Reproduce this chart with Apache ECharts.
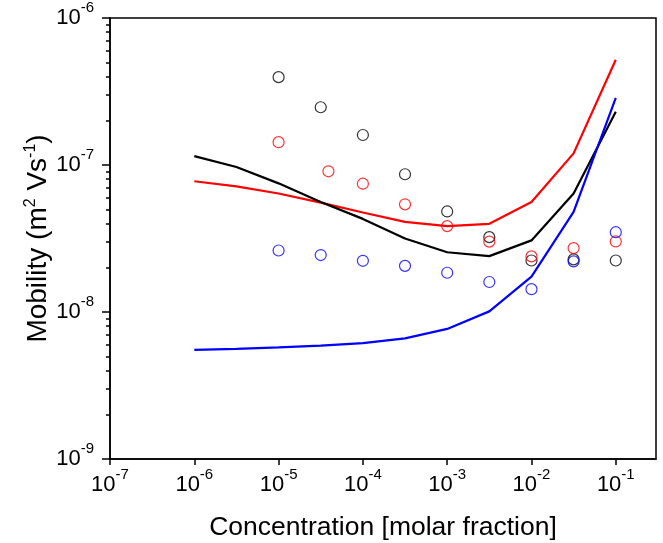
<!DOCTYPE html>
<html><head><meta charset="utf-8">
<script src="https://cdn.jsdelivr.net/npm/echarts@6/dist/echarts.min.js"></script>
<style>html,body{margin:0;padding:0;background:#fff}#c{width:663px;height:543px}</style>
</head><body><div id="c"></div>
<script>
// ---- data ----
const lineConc  = [1e-6, 3.16e-6, 1e-5, 3.16e-5, 1e-4, 3.16e-4, 1e-3, 3.16e-3, 1e-2, 3.16e-2, 1e-1];
const blackLine = [1.15e-7, 9.7e-8, 7.5e-8, 5.6e-8, 4.3e-8, 3.16e-8, 2.55e-8, 2.4e-8, 3.07e-8, 6.4e-8, 2.3e-7];
const redLine   = [7.75e-8, 7.15e-8, 6.4e-8, 5.55e-8, 4.75e-8, 4.1e-8, 3.84e-8, 3.98e-8, 5.6e-8, 1.2e-7, 5.2e-7];
const blueLine  = [5.52e-9, 5.62e-9, 5.74e-9, 5.9e-9, 6.15e-9, 6.62e-9, 7.67e-9, 1.01e-8, 1.74e-8, 4.8e-8, 2.86e-7];

const pointConc    = [1e-5, 3.16e-5, 1e-4, 3.16e-4, 1e-3, 3.16e-3, 1e-2, 3.16e-2, 1e-1];
const redPointConc = [1e-5, 3.9e-5, 1e-4, 3.16e-4, 1e-3, 3.16e-3, 1e-2, 3.16e-2, 1e-1];
const blackPts = [3.96e-7, 2.47e-7, 1.6e-7, 8.65e-8, 4.83e-8, 3.23e-8, 2.24e-8, 2.28e-8, 2.24e-8];
const redPts   = [1.43e-7, 9.06e-8, 7.46e-8, 5.4e-8, 3.84e-8, 3.01e-8, 2.39e-8, 2.72e-8, 3.02e-8];
const bluePts  = [2.62e-8, 2.44e-8, 2.23e-8, 2.06e-8, 1.85e-8, 1.6e-8, 1.43e-8, 2.21e-8, 3.49e-8];

const xTickValues = [1e-7, 1e-6, 1e-5, 1e-4, 1e-3, 1e-2, 1e-1];
const yTickValues = [1e-9, 1e-8, 1e-7, 1e-6];
const yMinorValues = [2e-9,3e-9,4e-9,5e-9,6e-9,7e-9,8e-9,9e-9,
                      2e-8,3e-8,4e-8,5e-8,6e-8,7e-8,8e-8,9e-8,
                      2e-7,3e-7,4e-7,5e-7,6e-7,7e-7,8e-7,9e-7];
const xTitle = 'Concentration [molar fraction]';

// ---- build ----
function pairs(xs, ys){ return xs.map((x,i)=>[x, ys[i]]); }
function powLabel(v){ const e = Math.round(Math.log10(v)); return '{b|10}{s|' + e + '}'; }
const FONT = '"Liberation Sans", Arial, sans-serif';
const labelRich = {
  b: {fontSize: 22, fontFamily: FONT, color: '#000', verticalAlign: 'bottom'},
  s: {fontSize: 15, fontFamily: FONT, color: '#000', verticalAlign: 'bottom', padding: [0,0,14,0]}
};

const chart = echarts.init(document.getElementById('c'), null, {renderer: 'canvas'});
chart.setOption({
  animation: false,
  backgroundColor: '#fff',
  grid: {left: 110, right: 7, top: 18, bottom: 84, show: true, borderColor: '#000', borderWidth: 1.5,
         containLabel: false, outerBoundsMode: 'none'},
  xAxis: [{
    type: 'log', min: 1e-7, max: 0.3,
    name: xTitle, nameLocation: 'middle', nameGap: 55, nameMoveOverlap: false,
    nameTextStyle: {fontSize: 26.5, fontFamily: FONT, color: '#000'},
    axisLine: {show: true, lineStyle: {color: '#000', width: 1.5}},
    axisTick: {show: true, inside: false, length: 6, lineStyle: {color: '#000', width: 1.5}, customValues: xTickValues},
    axisLabel: {show: true, margin: 8, formatter: powLabel, rich: labelRich, customValues: xTickValues},
    splitLine: {show: false}, minorTick: {show: false}
  }],
  yAxis: [{
    type: 'log', min: 1e-9, max: 1e-6,
    name: '{t|Mobility (m}{s|2}{t| Vs}{s|-1}{t|)}', nameLocation: 'middle', nameGap: 58, nameRotate: 90,
    nameMoveOverlap: false,
    nameTextStyle: {rich: {
      t: {fontSize: 28, fontFamily: FONT, color: '#000', verticalAlign: 'bottom'},
      s: {fontSize: 16, fontFamily: FONT, color: '#000', verticalAlign: 'bottom', padding: [0,0,13,0]}
    }},
    axisLine: {show: true, lineStyle: {color: '#000', width: 1.5}},
    axisTick: {show: true, inside: false, length: 8, lineStyle: {color: '#000', width: 1.5}, customValues: yTickValues},
    axisLabel: {show: true, margin: 16, formatter: powLabel, rich: labelRich, customValues: yTickValues, padding: [0,0,7,0]},
    splitLine: {show: false}, minorTick: {show: false}
  }, {
    type: 'log', min: 1e-9, max: 1e-6, position: 'left',
    axisLine: {show: false},
    axisTick: {show: true, inside: false, length: 4, lineStyle: {color: '#000', width: 1.5}, customValues: yMinorValues},
    axisLabel: {show: false},
    splitLine: {show: false}
  }],
  series: [
    {type: 'line', data: pairs(lineConc, redLine), showSymbol: false, symbol: 'none', lineStyle: {color: '#ff0000', width: 2.2}, z: 2},
    {type: 'line', data: pairs(lineConc, blackLine), showSymbol: false, symbol: 'none', lineStyle: {color: '#000000', width: 2.2}, z: 2},
    {type: 'line', data: pairs(lineConc, blueLine), showSymbol: false, symbol: 'none', lineStyle: {color: '#0000ff', width: 2.2}, z: 2},
    {type: 'scatter', data: pairs(pointConc, blackPts), symbol: 'circle', symbolSize: 11,
     itemStyle: {color: 'rgba(0,0,0,0)', borderColor: '#000', borderWidth: 1.2}, z: 3},
    {type: 'scatter', data: pairs(redPointConc, redPts), symbol: 'circle', symbolSize: 11,
     itemStyle: {color: 'rgba(0,0,0,0)', borderColor: '#ff0000', borderWidth: 1.2}, z: 3},
    {type: 'scatter', data: pairs(pointConc, bluePts), symbol: 'circle', symbolSize: 11,
     itemStyle: {color: 'rgba(0,0,0,0)', borderColor: '#0000ff', borderWidth: 1.2}, z: 3}
  ]
});
</script>
</body></html>
